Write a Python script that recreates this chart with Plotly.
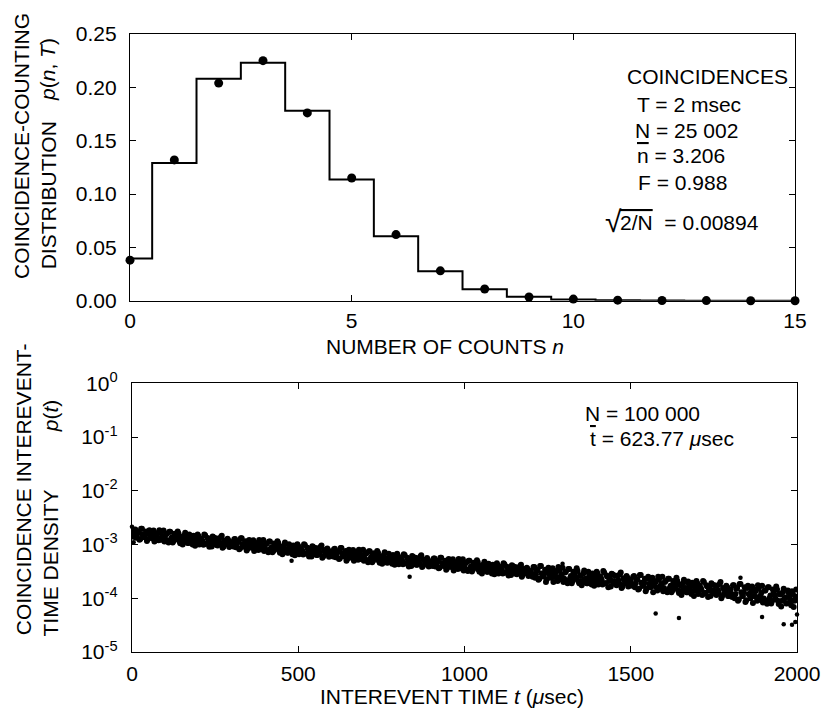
import plotly.graph_objects as go

FONT = "Liberation Sans, Arial, Helvetica, sans-serif"

# ---------------- top panel: coincidence-counting distribution ----------------
n_counts = [0, 1, 2, 3, 4, 5, 6, 7, 8, 9, 10, 11, 12, 13, 14, 15]
p_measured = [0.038, 0.132, 0.204, 0.225, 0.176, 0.115, 0.062, 0.028,
              0.011, 0.0035, 0.0015, 0.0005, 0.0002, 0.0001, 0.0, 0.0]
p_theory = [0.0395, 0.129, 0.208, 0.223, 0.178, 0.1135, 0.0605, 0.0277,
            0.0107, 0.0037, 0.0012, 0.0004, 0.0001, 0.0, 0.0, 0.0]
top_xticks = [0, 5, 10, 15]
top_yticks = [0.0, 0.05, 0.10, 0.15, 0.20, 0.25]
top_yticklabels = ["0.00", "0.05", "0.10", "0.15", "0.20", "0.25"]

# ---------------- bottom panel: interevent-time density ----------------
# p(t), in units of 1e-4 per usec (one row per 100 usec)
t_bins_a = list(range(0, 2001, 5))
p_band_a_e4 = [
    16.6, 13.9, 19.1, 15.1, 17.3, 12.7, 19.7, 14.0, 15.3, 11.6, 17.3, 14.7, 13.1, 18.2, 13.6, 15.5, 12.0, 16.6, 13.7, 18.3,
    12.7, 15.8, 10.9, 17.3, 13.5, 11.6, 14.5, 12.6, 16.1, 10.6, 13.6, 11.6, 16.6, 12.4, 10.7, 14.1, 11.5, 14.6, 9.5, 12.4,
    14.2, 11.3, 12.2, 9.9, 14.8, 10.4, 12.8, 11.2, 9.2, 13.6, 11.2, 9.8, 12.8, 10.2, 14.5, 9.1, 11.4, 10.3, 11.9, 9.3,
    11.0, 9.2, 12.6, 10.0, 11.4, 8.4, 13.1, 9.3, 10.1, 7.7, 11.4, 9.7, 8.7, 12.0, 9.0, 10.3, 7.9, 11.0, 9.1, 12.1,
    8.4, 10.4, 7.2, 11.4, 8.9, 7.6, 9.6, 8.3, 10.7, 7.0, 9.0, 7.7, 10.9, 8.2, 7.1, 9.3, 7.6, 9.6, 6.3, 8.2,
    9.3, 7.5, 8.0, 6.5, 9.8, 6.9, 8.4, 7.4, 6.0, 9.0, 7.4, 6.4, 8.4, 6.7, 9.6, 6.0, 7.5, 6.8, 7.8, 6.1,
    7.2, 6.0, 8.3, 6.6, 7.5, 5.5, 8.6, 6.1, 6.7, 5.0, 7.5, 6.4, 5.7, 7.9, 5.9, 6.7, 5.2, 7.2, 6.0, 8.0,
    5.5, 6.9, 4.7, 7.5, 5.9, 5.0, 6.3, 5.5, 7.0, 4.6, 5.9, 5.1, 7.2, 5.4, 4.7, 6.1, 5.0, 6.4, 4.2, 5.4,
    6.1, 4.9, 5.3, 4.3, 6.4, 4.5, 5.5, 4.9, 4.0, 5.9, 4.8, 4.2, 5.5, 4.4, 6.3, 4.0, 5.0, 4.5, 5.2, 4.0,
    4.8, 4.0, 5.5, 4.4, 5.0, 3.7, 5.7, 4.1, 4.4, 3.4, 5.0, 4.25, 3.8, 5.3, 4.0, 4.5, 3.5, 4.8, 4.0, 5.3,
    3.7, 4.6, 3.2, 5.0, 3.9, 3.4, 4.2, 3.7, 4.7, 3.1, 3.9, 3.4, 4.8, 3.6, 3.1, 4.1, 3.3, 4.2, 2.8, 3.6,
    4.1, 3.3, 3.6, 2.9, 4.3, 3.0, 3.7, 3.3, 2.7, 4.0, 3.3, 2.85, 3.7, 3.0, 4.2, 2.7, 3.3, 3.0, 3.5, 2.7,
    3.2, 2.5, 3.8, 2.8, 3.4, 2.3, 4.0, 2.6, 2.9, 2.0, 3.4, 2.8, 2.4, 3.6, 2.5, 3.0, 2.1, 3.3, 2.6, 3.7,
    2.3, 3.1, 1.9, 3.5, 2.6, 2.1, 2.8, 2.3, 3.2, 1.9, 2.6, 2.1, 3.3, 2.3, 1.9, 2.7, 2.1, 2.9, 1.7, 2.4,
    2.9, 2.1, 2.4, 1.8, 3.0, 1.9, 2.5, 2.1, 1.65, 2.8, 2.1, 1.8, 2.6, 1.9, 3.0, 1.65, 2.2, 1.95, 2.4, 1.7,
    2.2, 1.7, 2.6, 1.9, 2.25, 1.5, 2.7, 1.7, 1.95, 1.35, 2.3, 1.85, 1.6, 2.4, 1.7, 2.0, 1.4, 2.2, 1.7, 2.5,
    1.55, 2.1, 1.3, 2.3, 1.7, 1.4, 1.9, 1.55, 2.1, 1.25, 1.75, 1.4, 2.2, 1.55, 1.3, 1.85, 1.4, 1.95, 1.1, 1.6,
    1.9, 1.4, 1.55, 1.15, 2.0, 1.25, 1.65, 1.4, 1.1, 1.8, 1.4, 1.2, 1.7, 1.25, 2.0, 1.1, 1.5, 1.3, 1.6, 1.1,
    1.45, 1.05, 1.75, 1.2, 1.55, 0.95, 1.85, 1.1, 1.3, 0.85, 1.55, 1.2, 1.0, 1.65, 1.1, 1.35, 0.9, 1.5, 1.1, 1.7,
    0.99, 1.4, 0.79, 1.6, 1.13, 0.89, 1.3, 1.0, 1.45, 0.78, 1.18, 0.9, 1.5, 1.03, 0.81, 1.25, 0.92, 1.35, 0.69, 1.08,
    0.95,
]
t_bins_b = [t + 2.5 for t in range(0, 2000, 5)]
p_band_b_e4 = [
    15.1, 18.9, 13.4, 16.8, 12.3, 19.7, 15.3, 13.7, 17.4, 12.5, 18.5, 14.2, 15.4, 11.4, 16.2, 13.1, 18.5, 12.3, 14.4, 11.4,
    15.5, 11.8, 17.3, 12.7, 10.9, 15.8, 13.5, 17.4, 11.6, 13.8, 10.0, 14.7, 12.1, 10.7, 15.3, 12.35, 10.0, 13.4, 11.2, 15.3,
    10.0, 13.0, 11.5, 15.3, 10.3, 13.2, 9.1, 12.0, 14.1, 10.4, 13.1, 9.6, 11.1, 13.8, 8.7, 11.9, 10.1, 12.8, 9.0, 10.7,
    10.0, 12.5, 8.9, 11.1, 8.2, 13.1, 10.2, 9.1, 11.5, 8.3, 12.2, 9.4, 10.2, 7.6, 10.7, 8.7, 12.2, 8.2, 9.6, 7.6,
    10.2, 7.8, 11.4, 8.4, 7.2, 10.5, 8.9, 11.5, 7.7, 9.1, 6.6, 9.7, 8.0, 7.0, 10.1, 8.2, 6.6, 8.8, 7.4, 10.1,
    6.6, 8.6, 7.6, 10.1, 6.8, 8.7, 6.0, 7.9, 9.3, 6.8, 8.6, 6.4, 7.3, 9.1, 5.7, 7.9, 6.7, 8.4, 5.9, 7.1,
    6.6, 8.2, 5.8, 7.3, 5.4, 8.6, 6.7, 6.0, 7.6, 5.4, 8.0, 6.2, 6.7, 5.0, 7.0, 5.7, 8.0, 5.4, 6.3, 5.0,
    6.7, 5.1, 7.5, 5.5, 4.7, 6.9, 5.9, 7.6, 5.0, 6.0, 4.4, 6.4, 5.3, 4.6, 6.7, 5.4, 4.4, 5.8, 4.9, 6.7,
    4.3, 5.6, 5.0, 6.6, 4.5, 5.7, 3.9, 5.2, 6.1, 4.5, 5.7, 4.2, 4.8, 6.0, 3.8, 5.2, 4.4, 5.6, 3.9, 4.7,
    4.4, 5.5, 3.9, 4.9, 3.6, 5.7, 4.5, 4.0, 5.0, 3.6, 5.35, 4.1, 4.5, 3.3, 4.7, 3.8, 5.4, 3.6, 4.2, 3.3,
    4.5, 3.4, 5.0, 3.7, 3.15, 4.6, 3.9, 5.1, 3.4, 4.0, 2.9, 4.3, 3.5, 3.1, 4.4, 3.6, 2.9, 3.9, 3.3, 4.5,
    2.9, 3.8, 3.35, 4.5, 3.0, 3.85, 2.65, 3.5, 4.1, 3.0, 3.8, 2.8, 3.25, 4.0, 2.5, 3.5, 2.95, 3.7, 2.6, 3.1,
    2.8, 3.8, 2.4, 3.3, 2.2, 4.0, 2.9, 2.55, 3.4, 2.25, 3.7, 2.65, 3.0, 2.0, 3.2, 2.4, 3.8, 2.25, 2.75, 2.0,
    3.0, 2.1, 3.5, 2.35, 1.9, 3.1, 2.55, 3.6, 2.1, 2.65, 1.75, 2.9, 2.25, 1.9, 3.1, 2.3, 1.8, 2.6, 2.05, 3.1,
    1.8, 2.55, 2.2, 3.2, 1.9, 2.65, 1.6, 2.35, 2.85, 1.95, 2.65, 1.75, 2.15, 2.8, 1.55, 2.35, 1.9, 2.6, 1.65, 2.1,
    1.85, 2.5, 1.6, 2.2, 1.45, 2.7, 1.95, 1.7, 2.3, 1.5, 2.5, 1.8, 2.0, 1.3, 2.1, 1.6, 2.5, 1.5, 1.85, 1.35,
    2.0, 1.4, 2.3, 1.55, 1.3, 2.1, 1.7, 2.4, 1.4, 1.8, 1.15, 1.9, 1.5, 1.3, 2.05, 1.55, 1.2, 1.75, 1.4, 2.1,
    1.2, 1.7, 1.45, 2.1, 1.25, 1.75, 1.05, 1.55, 1.9, 1.3, 1.75, 1.15, 1.4, 1.85, 1.0, 1.55, 1.25, 1.7, 1.1, 1.35,
    1.2, 1.75, 1.0, 1.5, 0.9, 1.85, 1.3, 1.1, 1.6, 0.92, 1.7, 1.15, 1.35, 0.82, 1.45, 1.05, 1.75, 0.94, 1.25, 0.83,
    1.4, 0.9, 1.6, 1.0, 0.8, 1.45, 1.15, 1.65, 0.9, 1.2, 0.7, 1.3, 1.0, 0.8, 1.4, 1.03, 0.74, 1.2, 0.9, 1.45,
]
t_outliers = [0, 5, 480, 835, 1295, 1575, 1645, 1830, 1895, 1960, 1985, 1995, 2000]
p_outliers_e4 = [21.5, 11.0, 5.0, 2.5, 4.4, 0.52, 0.43, 2.4, 0.45, 0.33, 0.32, 0.36, 0.5]
UNIT = 1e-4
bottom_xticks = [0, 500, 1000, 1500, 2000]
bottom_yticks = [1e-5, 1e-4, 1e-3, 1e-2, 1e-1, 1]
bottom_yticklabels = ["10<sup>-5</sup>", "10<sup>-4</sup>", "10<sup>-3</sup>",
                      "10<sup>-2</sup>", "10<sup>-1</sup>", "10<sup>0</sup>"]

# ---------------- layout geometry (pixels) ----------------
OFF = 8                      # page body margin
W, H = 832 - OFF, 711 - OFF
ML, MR, MT, MB = 130 - OFF, 26, 31 - OFF, 59
PW, PH = W - ML - MR, H - MT - MB


def pxx(x):                  # reference-screen pixel -> paper fraction
    return (x - OFF - ML) / PW


def pxy(y):
    return (H - MB - (y - OFF)) / PH


fig = go.Figure()

fig.add_trace(go.Scatter(
    x=n_counts, y=p_theory, mode="lines", line=dict(shape="hvh", color="black", width=2),
    xaxis="x", yaxis="y", showlegend=False, hoverinfo="skip"))
fig.add_trace(go.Scatter(
    x=n_counts, y=p_measured, mode="markers", marker=dict(color="black", size=9),
    xaxis="x", yaxis="y", showlegend=False, cliponaxis=False))

for tb, pb in ((t_bins_a, p_band_a_e4), (t_bins_b, p_band_b_e4)):
    fig.add_trace(go.Scatter(
        x=tb, y=[v * UNIT for v in pb], mode="markers",
        marker=dict(color="black", size=6), xaxis="x2", yaxis="y2", showlegend=False))
fig.add_trace(go.Scatter(
    x=t_outliers, y=[v * UNIT for v in p_outliers_e4], mode="markers",
    marker=dict(color="black", size=4.5), xaxis="x2", yaxis="y2", showlegend=False,
    cliponaxis=False))

FS = 21
axis_common = dict(showline=True, linecolor="black", linewidth=1.3, mirror="ticks",
                   ticks="inside", ticklen=6, tickwidth=1.2, tickcolor="black",
                   showgrid=False, zeroline=False,
                   tickfont=dict(family=FONT, size=FS, color="black"))

fig.update_layout(
    width=W, height=H,
    margin=dict(l=ML, r=MR, t=MT, b=MB),
    paper_bgcolor="white", plot_bgcolor="white",
    font=dict(family=FONT, size=FS, color="black"),
    xaxis=dict(domain=[0, 674 / PW], range=[0, 15], tickvals=top_xticks,
               anchor="y", ticklabelstandoff=1, **axis_common),
    yaxis=dict(domain=[pxy(299), 1], range=[0, 0.25], tickvals=top_yticks,
               ticktext=top_yticklabels, anchor="x", ticklabelstandoff=8, **axis_common),
    xaxis2=dict(domain=[2 / PW, 1], range=[0, 2000], tickvals=bottom_xticks,
                anchor="y2", ticklabelstandoff=3, **axis_common),
    yaxis2=dict(domain=[0, pxy(382)], type="log", range=[-5, 0], tickvals=bottom_yticks,
                ticktext=bottom_yticklabels, anchor="x2", ticklabelstandoff=9, **axis_common),
)

OL = "<span style='text-decoration:overline'>"


def note(text, x, y, xanchor="left", angle=0, size=FS):
    fig.add_annotation(text=text, x=pxx(x), y=pxy(y), xref="paper", yref="paper",
                       xanchor=xanchor, yanchor="middle", showarrow=False,
                       textangle=angle, font=dict(family=FONT, size=size, color="black"))


# statistics box, top panel
note("COINCIDENCES", 632, 74)
note("T = 2 msec", 642, 102)
note("N = 25 002", 640, 128)
note(OL + "n</span> = 3.206", 642, 153)
note("F = 0.988", 643, 180)
note("\u221a", 609, 219, size=30)
note(OL + "2/N</span>\u00a0\u00a0= 0.00894", 625, 220)

# statistics box, bottom panel
note("N = 100 000", 589, 412)
note(OL + "t</span> = 623.77 <i>\u03bc</i>sec", 594, 437)

# axis titles
note("NUMBER OF COUNTS <i>n</i>", 449, 345, xanchor="center")
note("INTEREVENT TIME <i>t</i> (<i>\u03bc</i>sec)", 456, 697, xanchor="center")
note("COINCIDENCE-COUNTING", 20, 143, xanchor="center", angle=-90)
note("DISTRIBUTION", 47, 193, xanchor="center", angle=-90)
note("<i>p</i>(<i>n</i>, <i>T</i>)", 47, 67, xanchor="center", angle=-90)
note("COINCIDENCE INTEREVENT-", 22, 488, xanchor="center", angle=-90)
note("TIME DENSITY", 49, 563, xanchor="center", angle=-90)
note("<i>p</i>(<i>t</i>)", 49, 415, xanchor="center", angle=-90)

fig.write_html("out.html")
